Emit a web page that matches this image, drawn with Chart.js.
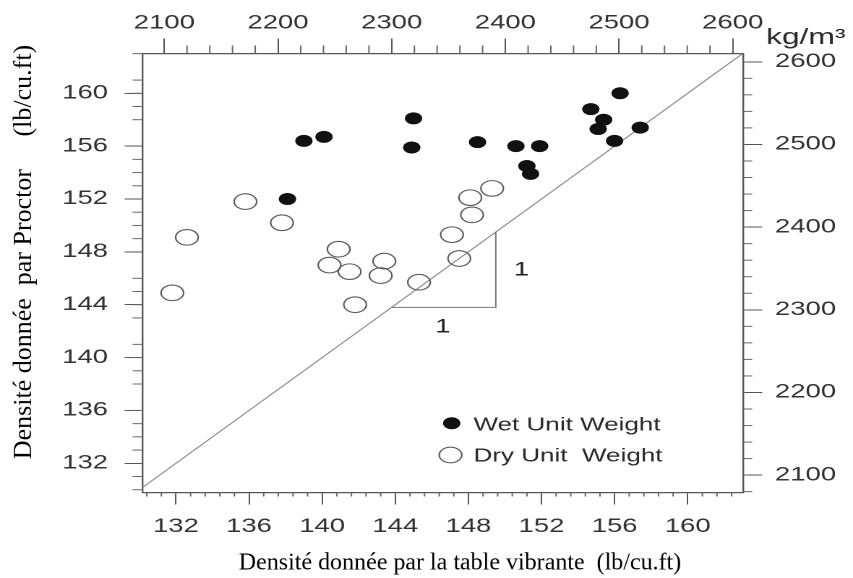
<!DOCTYPE html>
<html><head><meta charset="utf-8">
<script src="https://cdn.jsdelivr.net/npm/chart.js@4.4.1/dist/chart.umd.min.js"></script>
<style>
html,body{margin:0;padding:0;background:#fff;overflow:hidden;width:853px;height:578px;}
#wrap{position:absolute;left:0;top:0;width:590px;height:578px;transform:scaleX(1.4457627);transform-origin:0 0;}
canvas{display:block;}
</style></head><body>
<div id="wrap"><canvas id="c" width="590" height="578" style="width:590px;height:578px"></canvas></div>
<script>
const SX = 853 / 590;

// ---- data ----
const lbTicks = [132, 136, 140, 144, 148, 152, 156, 160];
const kgTicks = [2100, 2200, 2300, 2400, 2500, 2600];
const seriesNames = ['Wet Unit Weight', 'Dry Unit  Weight'];
const wetVibrating = [138.1, 139.0, 140.1, 145.0, 144.9, 148.5, 150.6, 151.9, 151.2, 151.4, 154.7, 155.4, 155.1, 156.3, 156.0, 157.4];
const wetProctor   = [152.0, 156.4, 156.7, 158.1, 155.9, 156.3, 156.0, 156.0, 154.5, 153.9, 158.8, 158.0, 157.3, 160.0, 156.4, 157.4];
const dryVibrating = [135.8, 137.8, 132.6, 131.8, 140.9, 140.4, 141.5, 143.4, 143.2, 141.8, 145.3, 147.5, 147.1, 148.2, 148.1, 149.3];
const dryProctor   = [151.8, 150.2, 149.1, 144.9, 148.2, 147.0, 146.5, 147.3, 146.2, 144.0, 145.7, 147.5, 149.3, 150.8, 152.1, 152.8];
const unityLine = [129, 164];
const slopeTriX = [143.8, 149.5, 149.5];
const slopeTriY = [143.8, 143.8, 149.5];
const slopeLabels = ['1', '1'];
const xTitle = 'Densité donnée par la table vibrante  (lb/cu.ft)';
const yTitle = 'Densité donnée  par Proctor     (lb/cu.ft)';
const unitLabel = 'kg/m³';

const toPts = (xs, ys) => xs.map((v, i) => ({x: v, y: ys[i]}));

const SANS = '"Liberation Sans", Arial, sans-serif';
const SERIF = '"Liberation Serif", "Times New Roman", serif';
const tickFont = {family: SANS, size: 19};

function axis(position, min, max, ticksArr, tl, pad, fitSize) {
  return {
    type: 'linear', position, min, max,
    afterBuildTicks: s => { s.ticks = ticksArr.map(v => ({value: v})); },
    afterFit: s => { if (s.isHorizontal()) s.height = fitSize; else s.width = fitSize; },
    grid: {drawOnChartArea: false, drawTicks: true, tickLength: tl, color: '#555', tickColor: '#555', lineWidth: 1},
    border: {display: true, color: '#555', width: 1.2},
    ticks: {font: tickFont, color: '#333', padding: pad, callback: v => String(v), maxRotation: 0, autoSkip: false}
  };
}

const minorTicks = {
  id: 'minorTicks',
  afterDraw(chart) {
    const ctx = chart.ctx, a = chart.chartArea, sc = chart.scales;
    const specs = [
      {s: sc.x, step: 0.8, base: 132, len: 4, side: 'bottom'},
      {s: sc.x2, step: 20, base: 2100, len: 8, side: 'top'},
      {s: sc.y, step: 1, base: 132, len: 7, side: 'left'},
      {s: sc.y2, step: 20, base: 2100, len: 6.2, side: 'right'}
    ];
    ctx.save();
    ctx.strokeStyle = '#666';
    ctx.lineWidth = 1;
    specs.forEach(sp => {
      const lo = sp.s.min, hi = sp.s.max;
      const k0 = Math.ceil((lo - sp.base) / sp.step - 1e-6), k1 = Math.floor((hi - sp.base) / sp.step + 1e-6);
      for (let k = k0; k <= k1; k++) {
        const v = sp.base + k * sp.step;
        if (k % 5 === 0) continue;
        const p = sp.s.getPixelForValue(v);
        ctx.beginPath();
        if (sp.side === 'bottom') { ctx.moveTo(p, a.bottom); ctx.lineTo(p, a.bottom + sp.len); }
        if (sp.side === 'top') { ctx.moveTo(p, a.top); ctx.lineTo(p, a.top - sp.len); }
        if (sp.side === 'left') { ctx.moveTo(a.left, p); ctx.lineTo(a.left - sp.len, p); }
        if (sp.side === 'right') { ctx.moveTo(a.right, p); ctx.lineTo(a.right + sp.len, p); }
        ctx.stroke();
      }
    });
    ctx.restore();
  }
};

const annot = {
  id: 'annot',
  afterDraw(chart) {
    const ctx = chart.ctx, x = chart.scales.x, y = chart.scales.y;
    ctx.save();
    ctx.fillStyle = '#222';
    ctx.font = '19px ' + SANS;
    ctx.textAlign = 'center';
    ctx.textBaseline = 'middle';
    ctx.fillText(slopeLabels[0], x.getPixelForValue(146.6), y.getPixelForValue(142.3));
    ctx.fillText(slopeLabels[1], x.getPixelForValue(150.9), y.getPixelForValue(146.6));

    // legend
    const ds = chart.data.datasets;
    const items = [
      {d: ds[0], cx: 451.7 / SX, cy: 423.3, ty: 425.5},
      {d: ds[1], cx: 450.5 / SX, cy: 455, ty: 456.5}
    ];
    ctx.font = '18px ' + SANS;
    ctx.textAlign = 'left';
    items.forEach(it => {
      ctx.beginPath();
      ctx.arc(it.cx, it.cy, it.d.pointRadius, 0, Math.PI * 2);
      ctx.fillStyle = it.d.backgroundColor;
      ctx.fill();
      ctx.lineWidth = it.d.borderWidth;
      ctx.strokeStyle = it.d.borderColor;
      ctx.stroke();
      ctx.fillStyle = '#2a2a2a';
      ctx.fillText(it.d.label, 473.5 / SX, it.ty);
    });

    // unit label
    ctx.font = '22px ' + SANS;
    ctx.textBaseline = 'alphabetic';
    ctx.fillStyle = '#2a2a2a';
    ctx.fillText(unitLabel, 766 / SX, 44);

    // axis titles (not stretched)
    ctx.scale(1 / SX, 1);
    ctx.fillStyle = '#000';
    ctx.textAlign = 'center';
    ctx.textBaseline = 'middle';
    ctx.font = '24px ' + SERIF;
    ctx.fillText(xTitle, 460, 563);
    ctx.translate(24, 252);
    ctx.rotate(-Math.PI / 2);
    ctx.font = '26px ' + SERIF;
    ctx.fillText(yTitle, 0, 0);
    ctx.restore();
  }
};

new Chart(document.getElementById('c'), {
  type: 'scatter',
  data: {
    datasets: [
      {label: seriesNames[0], data: toPts(wetVibrating, wetProctor), pointRadius: 5.5, backgroundColor: '#111', borderColor: '#111', borderWidth: 1, xAxisID: 'x', yAxisID: 'y'},
      {label: seriesNames[1], data: toPts(dryVibrating, dryProctor), pointRadius: 7.8, backgroundColor: 'rgba(255,255,255,0)', borderColor: '#5a5a5a', borderWidth: 1.1, xAxisID: 'x', yAxisID: 'y'},
      {label: 'slope', data: toPts(slopeTriX, slopeTriY), showLine: true, pointRadius: 0, borderColor: '#777', borderWidth: 1, xAxisID: 'x', yAxisID: 'y'},
      {label: '1:1', data: toPts(unityLine, unityLine), showLine: true, pointRadius: 0, borderColor: '#8a8a8a', borderWidth: 1, xAxisID: 'x', yAxisID: 'y'}
    ]
  },
  options: {
    responsive: false,
    devicePixelRatio: 2,
    animation: false,
    events: [],
    layout: {padding: 0},
    plugins: {legend: {display: false}, tooltip: {enabled: false}},
    scales: {
      x: axis('bottom', 130.18, 163.04, lbTicks, 12, 11, 85.5),
      x2: axis('top', 2081, 2609.3, kgTicks, 15, 4, 53.5),
      y: axis('left', 129.79, 163.01, lbTicks, 12.5, 11.5, 98.7),
      y2: axis('right', 2079, 2610, kgTicks, 13.1, 8.8, 75.9)
    }
  },
  plugins: [minorTicks, annot]
});
</script>
</body></html>
